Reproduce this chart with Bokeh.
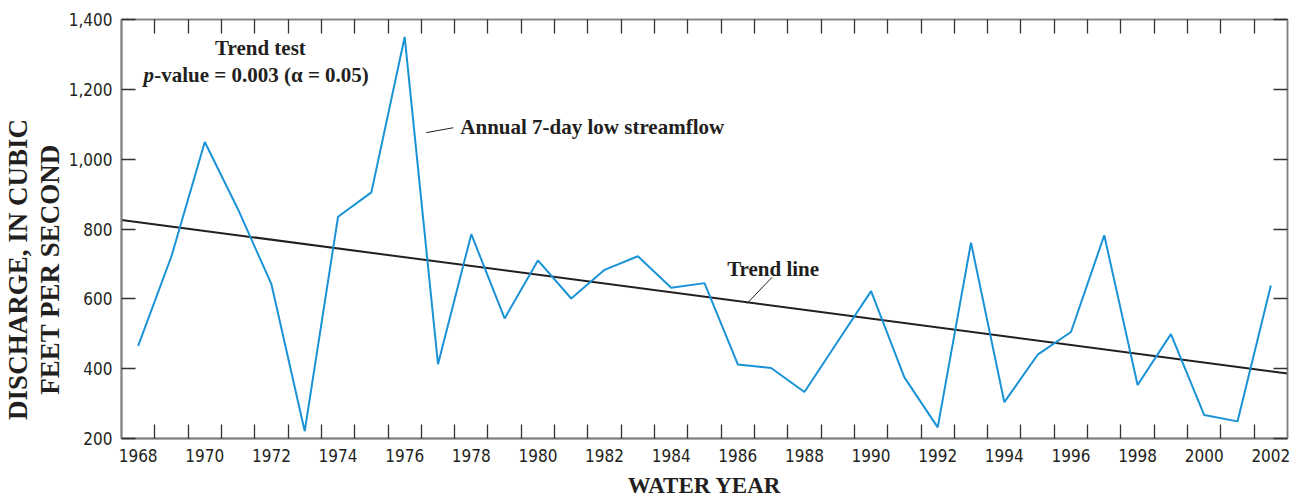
from bokeh.plotting import figure
from bokeh.models import Range1d, FixedTicker, LinearAxis, Label, NumeralTickFormatter
from bokeh.embed import file_html
from bokeh.resources import INLINE

# ---- data ----
years = list(range(1968, 2003))
discharge = [465, 722, 1049, 856, 642, 221, 835, 905, 1350, 413,
             785, 544, 710, 601, 683, 722, 632, 645, 412, 402,
             333, 478, 622, 375, 232, 761, 304, 440, 505, 782,
             353, 499, 267, 249, 638]
trend_years = [1967.5, 2002.5]
trend_values = [826, 386]
x_label_years = list(range(1968, 2003, 2))
year_bounds = [y + 0.5 for y in range(1968, 2002)]
y_ticks = [200, 400, 600, 800, 1000, 1200, 1400]

TICK_FONT = "'Liberation Sans Narrow', 'DejaVu Sans Condensed', Roboto, sans-serif"
SERIF = "Liberation Serif"
INK = "#231f20"
FRAME = "#7f7f7f"
BLUE = "#1a93d6"

p = figure(width=1297, height=500,
           x_range=Range1d(1967.5, 2002.5), y_range=Range1d(200, 1400),
           output_backend="svg", toolbar_location=None,
           min_border_left=121, min_border_right=10,
           min_border_top=19, min_border_bottom=62,
           background_fill_color="white", border_fill_color="white")
p.grid.visible = False
p.outline_line_color = FRAME
p.outline_line_width = 1.5

# bottom axis: labels at even years, ticks at year boundaries
xa = p.xaxis[0]
xa.ticker = FixedTicker(ticks=x_label_years, minor_ticks=year_bounds)
xa.major_tick_in = 0
xa.major_tick_out = 0
xa.minor_tick_in = 14
xa.minor_tick_out = 0
xa.minor_tick_line_color = "#333333"
xa.minor_tick_line_width = 1.3
xa.axis_line_color = FRAME
xa.axis_line_width = 2
xa.major_label_text_font = TICK_FONT
xa.major_label_text_font_size = "17px"
xa.major_label_text_color = INK
xa.major_label_standoff = 10
xa.axis_label = "WATER YEAR"
xa.axis_label_text_font = SERIF
xa.axis_label_text_font_style = "bold"
xa.axis_label_text_font_size = "23px"
xa.axis_label_text_color = INK
xa.axis_label_text_line_height = 1.0
xa.axis_label_standoff = 8

# left axis
ya = p.yaxis[0]
ya.ticker = FixedTicker(ticks=y_ticks)
ya.formatter = NumeralTickFormatter(format="0,0")
ya.major_tick_in = 14
ya.major_tick_out = 0
ya.minor_tick_in = 0
ya.minor_tick_out = 0
ya.major_tick_line_color = "#333333"
ya.major_tick_line_width = 1.3
ya.axis_line_color = FRAME
ya.axis_line_width = 2
ya.major_label_text_font = TICK_FONT
ya.major_label_text_font_size = "17px"
ya.major_label_text_color = INK
ya.major_label_standoff = 9
pad = "\u00a0" * 12
ya.axis_label = "DISCHARGE, IN CUBIC" + pad + "\nFEET PER SECOND" + pad
ya.axis_label_text_font = SERIF
ya.axis_label_text_font_style = "bold"
ya.axis_label_text_font_size = "27px"
ya.axis_label_text_color = INK
ya.axis_label_text_line_height = 1.05
ya.axis_label_standoff = 1

# right axis: ticks only
ra = LinearAxis(ticker=FixedTicker(ticks=y_ticks), major_tick_in=14, major_tick_out=0,
                minor_tick_in=0, minor_tick_out=0,
                major_tick_line_color="#333333", major_tick_line_width=1.3,
                axis_line_color=FRAME, axis_line_width=1.5,
                major_label_overrides={v: "" for v in y_ticks},
                major_label_text_color=None, major_label_standoff=0)
p.add_layout(ra, "right")

# top axis: ticks only at year boundaries
ta = LinearAxis(ticker=FixedTicker(ticks=year_bounds), major_tick_in=14, major_tick_out=0,
                minor_tick_in=0, minor_tick_out=0,
                major_tick_line_color="#333333", major_tick_line_width=1.3,
                axis_line_color=FRAME, axis_line_width=1.5,
                major_label_overrides={v: "" for v in year_bounds},
                major_label_text_color=None, major_label_standoff=0)
p.add_layout(ta, "above")

# data
p.line(trend_years, trend_values, line_color=INK, line_width=2)
p.line(years, discharge, line_color=BLUE, line_width=2)

# leader lines
p.segment(x0=[1976.65, 1987.03], y0=[1076, 662], x1=[1977.46, 1986.28], y1=[1090, 587],
          line_color=INK, line_width=1)

def lab(text, x, y, size, align="center", style="bold", **kw):
    p.add_layout(Label(x=x, y=y, text=text, text_font=SERIF, text_font_size=size,
                       text_font_style=style, text_color=INK, text_align=align,
                       text_baseline="middle", **kw))

lab("Trend test", 1971.67, 1319, "21px")
lab("p", 1968.16, 1242, "21px", align="left", style="bold italic")
lab("-value = 0.003 (\u03b1 = 0.05)", 1968.48, 1242, "21px", align="left")
lab("Annual 7-day low streamflow", 1977.67, 1093, "21px", align="left")
lab("Trend line", 1987.06, 685, "21px")

open("out.html", "w").write(file_html(p, INLINE))
